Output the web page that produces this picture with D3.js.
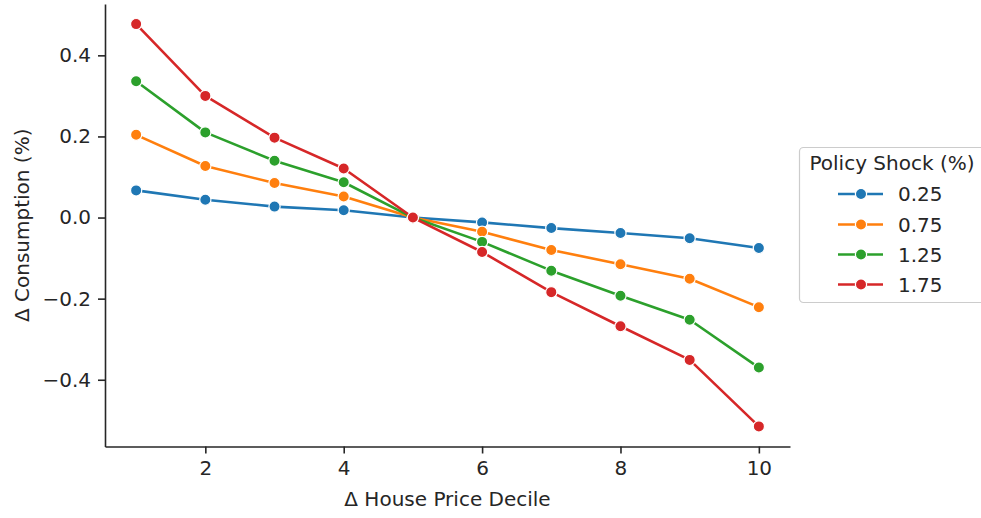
<!DOCTYPE html>
<html>
<head>
<meta charset="utf-8">
<script src="https://cdn.jsdelivr.net/npm/d3@7"></script>
<style>
  html, body { margin: 0; padding: 0; background: #fff; }
  svg { display: block; font-family: "DejaVu Sans", sans-serif; }
</style>
</head>
<body>
<svg id="chart" width="981" height="518"></svg>
<script>
const deciles = [1, 2, 3, 4, 5, 6, 7, 8, 9, 10];
const shockLabels = ["0.25", "0.75", "1.25", "1.75"];
const s025 = [0.067, 0.044, 0.027, 0.018, 0.0, -0.012, -0.026, -0.038, -0.051, -0.075];
const s075 = [0.204, 0.127, 0.085, 0.052, 0.0, -0.035, -0.080, -0.115, -0.151, -0.221];
const s125 = [0.336, 0.210, 0.140, 0.087, 0.0, -0.060, -0.131, -0.193, -0.252, -0.370];
const s175 = [0.477, 0.300, 0.197, 0.121, 0.0, -0.085, -0.184, -0.268, -0.351, -0.515];
const colors = ["#1f77b4", "#ff7f0e", "#2ca02c", "#d62728"];
const xTicks = [2, 4, 6, 8, 10];
const yTicks = [-0.4, -0.2, 0.0, 0.2, 0.4];
const xLabel = "\u0394 House Price Decile";
const yLabel = "\u0394 Consumption (%)";
const legendTitle = "Policy Shock (%)";

const seriesVals = [s025, s075, s125, s175];
const series = shockLabels.map((lab, i) => ({
  label: lab, color: colors[i],
  pts: deciles.map((d, j) => ({ x: d, y: seriesVals[i][j] }))
}));

const svg = d3.select("#chart");
const L = 105, R = 790, T = 4, B = 446.5;
const ink = "#262626";
const fs = 20;

// 5% margins like matplotlib
const xe = d3.extent(deciles);
const xpad = (xe[1] - xe[0]) * 0.05;
const allY = seriesVals.flat();
const ye = d3.extent(allY);
const ypad = (ye[1] - ye[0]) * 0.05;

const x = d3.scaleLinear().domain([xe[0] - xpad, xe[1] + xpad]).range([L, R]);
const y = d3.scaleLinear().domain([ye[0] - ypad, ye[1] + ypad]).range([B, T]);

// axes
const xAxis = svg.append("g").attr("transform", `translate(0,${B})`)
  .call(d3.axisBottom(x).tickValues(xTicks).tickFormat(d3.format("d")).tickSizeInner(7).tickSizeOuter(0).tickPadding(7));
const yAxis = svg.append("g").attr("transform", `translate(${L},0)`)
  .call(d3.axisLeft(y).tickValues(yTicks).tickFormat(d => d3.format(".1f")(d).replace("-", "\u2212")).tickSizeInner(7).tickSizeOuter(0).tickPadding(7));

[xAxis, yAxis].forEach(g => {
  g.select(".domain").attr("stroke", ink).attr("stroke-width", 1.6);
  g.selectAll(".tick line").attr("stroke", ink).attr("stroke-width", 1.6);
  g.selectAll(".tick text").attr("fill", ink).attr("font-size", fs)
    .attr("font-family", "DejaVu Sans, sans-serif");
});

// axis labels
svg.append("text").attr("x", (L + R) / 2).attr("y", 506)
  .attr("text-anchor", "middle").attr("font-size", fs).attr("fill", ink).text(xLabel);
svg.append("text").attr("transform", `translate(29,${(T + B) / 2}) rotate(-90)`)
  .attr("text-anchor", "middle").attr("font-size", fs).attr("fill", ink).text(yLabel);

// lines + markers
const line = d3.line().x(d => x(d.x)).y(d => y(d.y));
series.forEach(s => {
  const g = svg.append("g");
  g.append("path").datum(s.pts).attr("d", line).attr("fill", "none")
    .attr("stroke", s.color).attr("stroke-width", 2.6).attr("stroke-linejoin", "round");
  g.selectAll("circle").data(s.pts).join("circle")
    .attr("cx", d => x(d.x)).attr("cy", d => y(d.y)).attr("r", 5.6)
    .attr("fill", s.color).attr("stroke", "#fff").attr("stroke-width", 1.2);
});

// legend
const lg = svg.append("g");
lg.append("rect").attr("x", 799.5).attr("y", 147.5).attr("width", 200).attr("height", 155)
  .attr("rx", 4).attr("fill", "#fff").attr("fill-opacity", 0.8)
  .attr("stroke", "#cccccc").attr("stroke-width", 1.2);
lg.append("text").attr("x", 892).attr("y", 170).attr("text-anchor", "middle")
  .attr("font-size", fs).attr("fill", ink).text(legendTitle);
const rowY = [194, 224.5, 254.5, 284.5];
series.forEach((s, i) => {
  const yy = rowY[i];
  lg.append("line").attr("x1", 838).attr("x2", 883).attr("y1", yy).attr("y2", yy)
    .attr("stroke", s.color).attr("stroke-width", 2.6);
  lg.append("circle").attr("cx", 861).attr("cy", yy).attr("r", 5.6)
    .attr("fill", s.color).attr("stroke", "#fff").attr("stroke-width", 1.2);
  lg.append("text").attr("x", 898).attr("y", yy).attr("dy", "0.36em")
    .attr("font-size", fs).attr("fill", ink).text(s.label);
});
</script>
</body>
</html>
